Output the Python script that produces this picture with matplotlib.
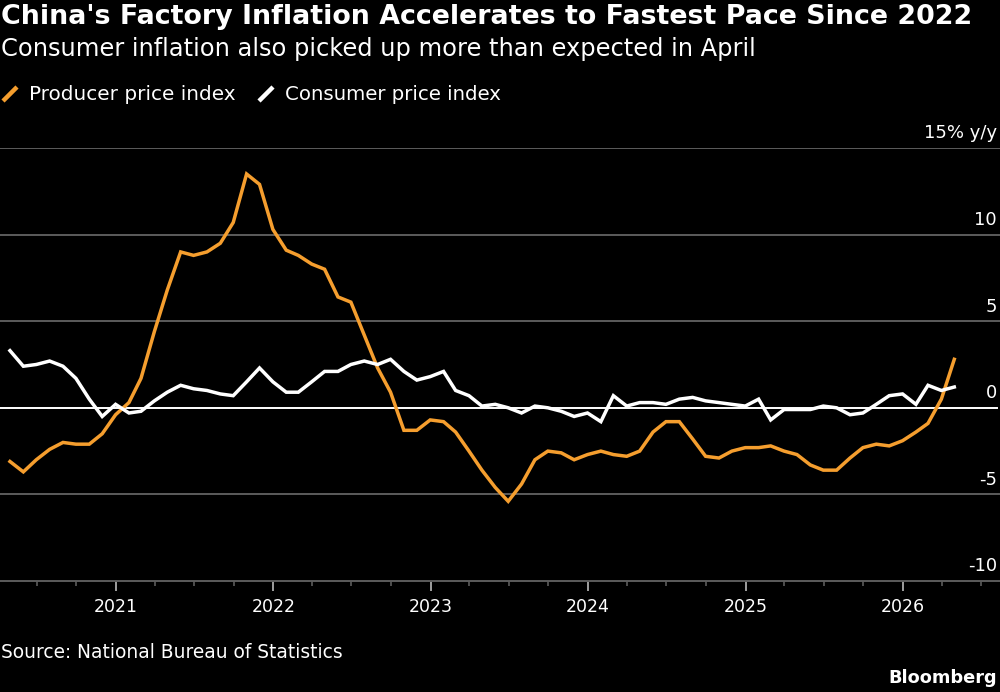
import pandas as pd
import matplotlib
matplotlib.use("Agg")
from matplotlib import pyplot as plt
from matplotlib import dates as mdates
from matplotlib.lines import Line2D

plt.rcParams["font.family"] = ["DejaVu Sans"]

# month end dates, apr 2020 to apr 2026
months = pd.date_range("2020-04-30", "2026-04-30", freq="ME")

ppi = [-3.1, -3.7, -3.0, -2.4, -2.0, -2.1, -2.1, -1.5, -0.4,
       0.3, 1.7, 4.4, 6.8, 9.0, 8.8, 9.0, 9.5, 10.7, 13.5, 12.9, 10.3,
       9.1, 8.8, 8.3, 8.0, 6.4, 6.1, 4.2, 2.3, 0.9, -1.3, -1.3, -0.7,
       -0.8, -1.4, -2.5, -3.6, -4.6, -5.4, -4.4, -3.0, -2.5, -2.6, -3.0, -2.7,
       -2.5, -2.7, -2.8, -2.5, -1.4, -0.8, -0.8, -1.8, -2.8, -2.9, -2.5, -2.3,
       -2.3, -2.2, -2.5, -2.7, -3.3, -3.6, -3.6, -2.9, -2.3, -2.1, -2.2, -1.9,
       -1.4, -0.9, 0.5, 2.8]

cpi = [3.3, 2.4, 2.5, 2.7, 2.4, 1.7, 0.5, -0.5, 0.2,
       -0.3, -0.2, 0.4, 0.9, 1.3, 1.1, 1.0, 0.8, 0.7, 1.5, 2.3, 1.5,
       0.9, 0.9, 1.5, 2.1, 2.1, 2.5, 2.7, 2.5, 2.8, 2.1, 1.6, 1.8,
       2.1, 1.0, 0.7, 0.1, 0.2, 0.0, -0.3, 0.1, 0.0, -0.2, -0.5, -0.3,
       -0.8, 0.7, 0.1, 0.3, 0.3, 0.2, 0.5, 0.6, 0.4, 0.3, 0.2, 0.1,
       0.5, -0.7, -0.1, -0.1, -0.1, 0.1, 0.0, -0.4, -0.3, 0.2, 0.7, 0.8,
       0.2, 1.3, 1.0, 1.2]

y_ticks = [15, 10, 5, 0, -5, -10]
y_labels = ["15% y/y", "10", "5", "0", "-5", "-10"]

orange = "#F59E2E"
grid = "#5C5C5C"
W, H = 1000, 692

fig = plt.figure(figsize=(W / 100, H / 100), dpi=100, facecolor="black")
# axes fills the width, 15 gridline at y=148px, -10 at y=581px
ax = fig.add_axes([0, 1 - 581 / H, 1, (581 - 148) / H], facecolor="black")

# jan 2021 sits at 116px and jan 2026 at 903px
jan21 = mdates.date2num(pd.Timestamp("2021-01-01"))
jan26 = mdates.date2num(pd.Timestamp("2026-01-01"))
px_per_day = (903 - 116) / (jan26 - jan21)
left = jan21 - 116 / px_per_day
ax.set_xlim(left, left + W / px_per_day)
ax.set_ylim(-10, 15)

for v in y_ticks:
    if v == 0:
        ax.axhline(v, color="white", lw=1.4, zorder=2, xmax=0.997)
    elif v != -10:
        ax.axhline(v, color=grid, lw=1.4, zorder=1)
    ax.annotate(y_labels[y_ticks.index(v)], (0.997, v), xycoords=ax.get_yaxis_transform(),
                xytext=(0, 4), textcoords="offset points", ha="right", va="bottom",
                color="white", fontsize=13)

ax.plot(months, ppi, color=orange, lw=2.5, solid_joinstyle="miter", zorder=3)
ax.plot(months, cpi, color="white", lw=2.5, solid_joinstyle="miter", zorder=4)

for side in ["top", "left", "right"]:
    ax.spines[side].set_visible(False)
ax.spines["bottom"].set_color(grid)
ax.spines["bottom"].set_linewidth(1.4)

ax.yaxis.set_visible(False)
ax.xaxis.set_major_locator(mdates.YearLocator())
ax.xaxis.set_major_formatter(mdates.DateFormatter("%Y"))
ax.xaxis.set_minor_locator(mdates.MonthLocator(bymonth=[1, 4, 7, 10]))
ax.tick_params(axis="x", which="major", length=7, width=1.2, color="#BBBBBB",
               labelcolor="white", labelsize=12.5, pad=5)
ax.tick_params(axis="x", which="minor", length=3.5, width=1.2, color=grid)


def fig_text(x, y, s, **kw):
    fig.text(x / W, 1 - y / H, s, color="white", va="center", **kw)


fig_text(1, 17, "China's Factory Inflation Accelerates to Fastest Pace Since 2022",
         fontsize=19.4, fontweight="bold")
fig_text(1, 49, "Consumer inflation also picked up more than expected in April", fontsize=17.4)

# legend swatches and labels
fig.add_artist(Line2D([3 / W, 17 / W], [1 - 101 / H, 1 - 87 / H], color=orange, lw=3.2,
                      solid_capstyle="butt"))
fig_text(29, 94, "Producer price index", fontsize=14.4)
fig.add_artist(Line2D([259 / W, 273 / W], [1 - 101 / H, 1 - 87 / H], color="white", lw=3.2,
                      solid_capstyle="butt"))
fig_text(285, 94, "Consumer price index", fontsize=14.2)

fig_text(1, 653, "Source: National Bureau of Statistics", fontsize=13.4)
fig.text(997 / W, 1 - 678 / H, "Bloomberg", color="white", ha="right", va="center",
         fontsize=12.8, fontweight="bold")

fig.savefig("out.png", dpi=100, facecolor="black")
